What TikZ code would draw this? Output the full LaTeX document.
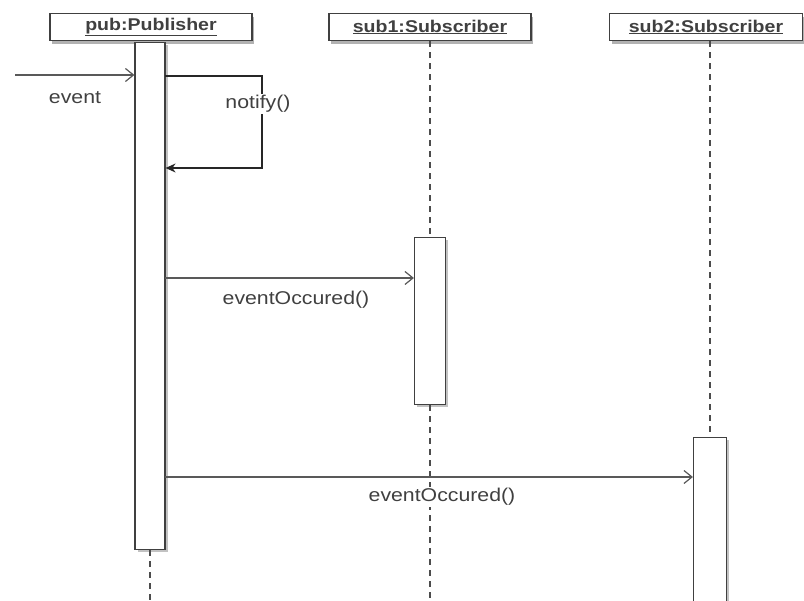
\documentclass[tikz,border=0pt]{standalone}
\usepackage{fontspec}
\setmainfont{Liberation Sans}[FakeStretch=1.15]
\usetikzlibrary{positioning,shadows,arrows.meta}

\tikzset{
  objbox/.style={draw=black!75, line width=1.2pt, fill=white, minimum height=27, inner sep=0pt,
    drop shadow={fill=black!60, opacity=0.5, shadow xshift=2pt, shadow yshift=-3.5pt},
    font=\fontsize{17}{19}\selectfont\bfseries, text=black!75},
  actbar/.style={draw=black!75, line width=1.2pt, fill=white, inner sep=0pt, anchor=north,
    drop shadow={fill=black!60, opacity=0.4, shadow xshift=2.5pt, shadow yshift=-2pt}},
  lifeline/.style={dash pattern=on 6pt off 5pt, black!70, line width=1.2pt},
  msg/.style={black!65, line width=1.2pt, -{Straight Barb[length=8pt,width=13pt]}},
  selfmsg/.style={black!85, line width=1.2pt, -{Stealth[length=10pt,width=9pt]}},
  lbl/.style={font=\fontsize{18.5}{21}\selectfont, text=black!75, inner sep=1pt}
}

\begin{document}
\begin{tikzpicture}[x=1pt, y=-1pt]
  \useasboundingbox (0,0) rectangle (804,601);

  % Object heads
  \node [objbox, minimum width=202] (pub)  at (151,27) {\underline{pub:Publisher}};
  \node [objbox, minimum width=202] (sub1) at (430,27) {\underline{sub1:Subscriber}};
  \node [objbox, minimum width=193] (sub2) at (706,27) {\underline{sub2:Subscriber}};

  % Lifeline ends
  \coordinate (pubend)  at (150,601);
  \coordinate (sub1end) at (430,601);

  % Activation bars
  \node [actbar, minimum width=30, minimum height=507] (pubact)  at (150,42)  {};
  \node [actbar, minimum width=31, minimum height=167] (sub1act) at (430,237) {};
  \node [actbar, minimum width=33, minimum height=180] (sub2act) at (710,437) {};

  % Lifelines
  \draw [lifeline] (pubact.south) -- (pubend);
  \draw [lifeline] (sub1.south) -- (sub1act.north);
  \draw [lifeline] (sub1act.south) -- (sub1end);
  \draw [lifeline] (sub2.south -| sub2act.north) -- (sub2act.north);

  % Incoming event
  \coordinate (evin) at (15,75);
  \draw [msg] (evin) -- (pubact.west |- evin);
  \node [lbl] (evlbl) at (75,98) {event};

  % Self call notify()
  \coordinate (selfout)  at (165,76);
  \coordinate (selftop)  at (262,76);
  \coordinate (selfbot)  at (262,168);
  \draw [selfmsg] (selfout) -- (selftop) -- (selfbot) -- (pubact.east |- selfbot);
  \node [lbl, fill=white] (notifylbl) at (258,104) {notify()};

  % Calls to the subscribers
  \coordinate (call1) at (165,278);
  \coordinate (call2) at (165,477);
  \draw [msg] (call1) -- (sub1act.west |- call1);
  \node [lbl] (call1lbl) at (296,300) {eventOccured()};
  \draw [msg] (call2) -- (sub2act.west |- call2);
  \node [lbl, fill=white] (call2lbl) at (442,497) {eventOccured()};

\end{tikzpicture}
\end{document}
